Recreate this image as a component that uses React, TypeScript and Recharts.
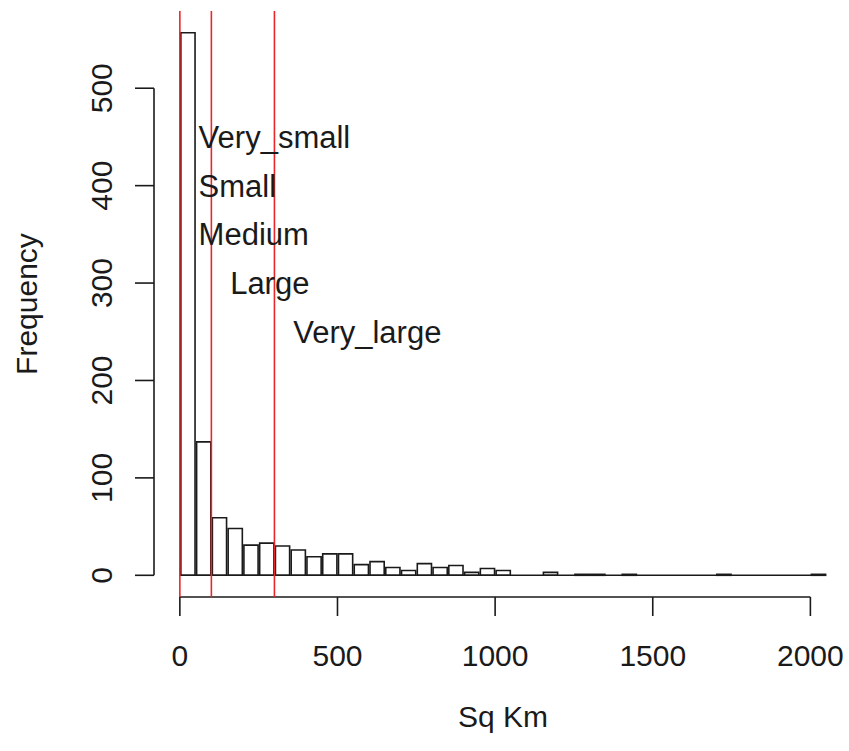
import React from "react";
import { ComposedChart, Bar, XAxis, YAxis, ReferenceLine, ReferenceDot } from "recharts";

// histogram bins, 50 sq km wide
const binStarts = [
  0, 50, 100, 150, 200, 250, 300, 350, 400, 450, 500, 550, 600, 650, 700, 750, 800, 850, 900, 950,
  1000, 1050, 1100, 1150, 1200, 1250, 1300, 1350, 1400, 1450, 1500, 1550, 1600, 1650, 1700, 1750,
  1800, 1850, 1900, 1950, 2000,
];
const binCounts = [
  557, 137, 59, 48, 31, 33, 30, 26, 19, 22, 22, 11, 14, 8, 5, 12, 8, 10, 3, 7,
  5, 0, 0, 3, 0, 1, 1, 0, 1, 0, 0, 0, 0, 0, 1, 0,
  0, 0, 0, 0, 1,
];
const BIN_WIDTH = 50;

// size class cut points and their labels
const cutPoints = [0, 100, 300];
const classLabels = ["Very_small", "Small", "Medium", "Large", "Very_large"];
const labelX = [50, 50, 50, 150, 350];
const labelY = [450, 400, 350, 300, 250];

const xTicks = [0, 500, 1000, 1500, 2000];
const yTicks = [0, 100, 200, 300, 400, 500];

// plotting region, extended 4% like base R graphics
const X_DOMAIN: [number, number] = [-82, 2132];
const Y_DOMAIN: [number, number] = [-22.28, 579.28];

const data = binStarts.map((start, i) => ({
  mid: start + BIN_WIDTH / 2,
  count: binCounts[i],
}));

const FONT = "'Liberation Sans', Arial, sans-serif";
const INK = "#1a1a1a";
const RED = "#e8262b";

const CHART_W = 852;
const CHART_H = 751;
const MARGIN = { top: 11, right: 0, bottom: 54, left: 0 };
const Y_AXIS_W = 154;
const X_AXIS_H = 100;
const plotWidth = CHART_W - MARGIN.left - MARGIN.right - Y_AXIS_W;
const barSize = (plotWidth * BIN_WIDTH) / (X_DOMAIN[1] - X_DOMAIN[0]);

const YTick = ({ x, y, payload }: any) => (
  <text
    x={x}
    y={y}
    transform={`rotate(-90, ${x}, ${y})`}
    textAnchor="middle"
    fontFamily={FONT}
    fontSize={30}
    fill={INK}
  >
    {payload.value}
  </text>
);

const XTick = ({ x, y, payload }: any) => (
  <text x={x} y={y} textAnchor="middle" fontFamily={FONT} fontSize={30} fill={INK}>
    {payload.value}
  </text>
);

const ClassLabel = (text: string) => (props: any) => {
  const { viewBox } = props;
  const cx = viewBox.x + (viewBox.width || 0) / 2;
  const cy = viewBox.y + (viewBox.height || 0) / 2;
  return (
    <text x={cx + 3} y={cy + 11} textAnchor="start" fontFamily={FONT} fontSize={31} fill={INK}>
      {text}
    </text>
  );
};

export default function App() {
  return (
    <div
      style={{
        position: "absolute",
        left: 0,
        top: 0,
        width: 849,
        height: 751,
        overflow: "hidden",
        background: "#fff",
      }}
    >
      <ComposedChart width={CHART_W} height={CHART_H} data={data} margin={MARGIN} barCategoryGap={0} barGap={0}>
        <XAxis
          type="number"
          dataKey="mid"
          domain={X_DOMAIN}
          allowDataOverflow
          ticks={xTicks}
          interval={0}
          height={X_AXIS_H}
          axisLine={false}
          tickSize={19}
          tickMargin={50}
          tickLine={{ stroke: INK, strokeWidth: 1.6 }}
          tick={<XTick />}
          label={(props: any) => {
            const vb = props.viewBox;
            return (
              <text
                x={vb.x + vb.width / 2}
                y={vb.y + 130}
                textAnchor="middle"
                fontFamily={FONT}
                fontSize={30}
                fill={INK}
              >
                Sq Km
              </text>
            );
          }}
        />
        <YAxis
          type="number"
          domain={Y_DOMAIN}
          allowDataOverflow
          ticks={yTicks}
          interval={0}
          width={Y_AXIS_W}
          axisLine={false}
          tickSize={19}
          tickMargin={23}
          tickLine={{ stroke: INK, strokeWidth: 1.6 }}
          tick={<YTick />}
          label={(props: any) => {
            const vb = props.viewBox;
            const lx = vb.x + 37;
            const ly = vb.y + vb.height / 2;
            return (
              <text
                x={lx}
                y={ly}
                transform={`rotate(-90, ${lx}, ${ly})`}
                textAnchor="middle"
                fontFamily={FONT}
                fontSize={30}
                fill={INK}
              >
                Frequency
              </text>
            );
          }}
        />
        <Bar
          dataKey="count"
          barSize={barSize}
          fill="none"
          stroke={INK}
          strokeWidth={1.6}
          isAnimationActive={false}
        />
        {/* empty bins still show as a flat line along zero */}
        <ReferenceLine
          segment={[
            { x: binStarts[0], y: 0 },
            { x: binStarts[binStarts.length - 1] + BIN_WIDTH, y: 0 },
          ]}
          stroke={INK}
          strokeWidth={1.6}
          ifOverflow="visible"
        />
        {/* axis lines span the tick range only */}
        <ReferenceLine
          segment={[
            { x: X_DOMAIN[0], y: yTicks[0] },
            { x: X_DOMAIN[0], y: yTicks[yTicks.length - 1] },
          ]}
          stroke={INK}
          strokeWidth={1.6}
          ifOverflow="visible"
        />
        <ReferenceLine
          segment={[
            { x: xTicks[0], y: Y_DOMAIN[0] },
            { x: xTicks[xTicks.length - 1], y: Y_DOMAIN[0] },
          ]}
          stroke={INK}
          strokeWidth={1.6}
          ifOverflow="visible"
        />
        {cutPoints.map((c) => (
          <ReferenceLine key={c} x={c} stroke={RED} strokeWidth={1.6} ifOverflow="visible" />
        ))}
        {classLabels.map((name, i) => (
          <ReferenceDot
            key={name}
            x={labelX[i]}
            y={labelY[i]}
            r={0}
            fill="none"
            stroke="none"
            ifOverflow="visible"
            label={ClassLabel(name)}
          />
        ))}
      </ComposedChart>
    </div>
  );
}
